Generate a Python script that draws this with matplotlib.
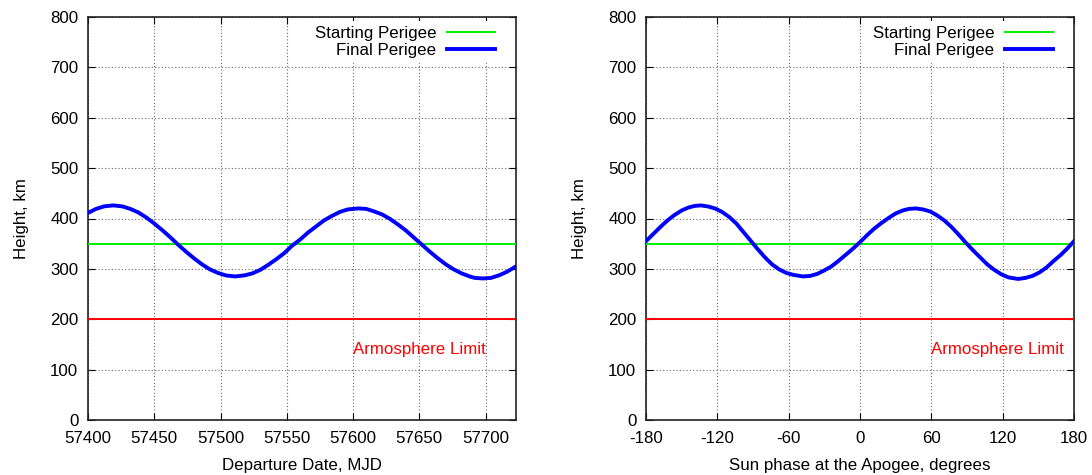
import matplotlib
matplotlib.use("Agg")
import matplotlib.pyplot as plt

plt.rcParams["font.family"] = ["Liberation Sans", "DejaVu Sans"]
plt.rcParams["axes.unicode_minus"] = False
FS = 12.2

# Final perigee height versus departure date (MJD)
mjd = [57400, 57406, 57412, 57419, 57426, 57432, 57438, 57444, 57450, 57456,
       57462, 57468, 57474, 57480, 57486, 57492, 57498, 57504, 57511, 57518,
       57524, 57530, 57536, 57542, 57548, 57554, 57560, 57566, 57572, 57578,
       57584, 57590, 57596, 57604, 57610, 57616, 57622, 57628, 57634, 57640,
       57646, 57652, 57658, 57664, 57670, 57676, 57682, 57688, 57692, 57698,
       57704, 57710, 57716, 57723]
perigee_by_date = [411, 419, 424, 426, 424, 419, 412, 402, 390, 377,
                   363, 348, 334, 321, 309, 299, 292, 287, 285, 287,
                   291, 298, 308, 319, 331, 346, 358, 372, 384, 396,
                   405, 413, 418, 420, 419, 414, 408, 399, 388, 376,
                   362, 348, 334, 321, 309, 299, 291, 285, 282, 281,
                   282, 287, 294, 305]

# Final perigee height versus Sun phase at apogee (degrees)
sun_phase = [-180, -174, -168, -162, -156, -150, -144, -139, -134, -128,
             -122, -116, -110, -104, -98, -92, -86, -80, -74, -68,
             -62, -56, -48, -42, -36, -30, -24, -18, -12, -6,
             0, 6, 12, 18, 24, 30, 36, 41, 47, 53,
             59, 65, 71, 77, 83, 89, 95, 101, 107, 113,
             119, 125, 133, 139, 145, 151, 157, 163, 169, 175,
             180]
perigee_by_phase = [355, 369, 383, 396, 407, 416, 422, 425, 426, 424,
                    420, 413, 403, 390, 373, 356, 339, 323, 309, 299,
                    292, 288, 285, 286, 290, 297, 305, 316, 328, 340,
                    353, 367, 380, 391, 401, 410, 416, 419, 420, 418,
                    414, 406, 396, 383, 368, 352, 337, 323, 309, 298,
                    289, 283, 280, 282, 286, 293, 303, 316, 328, 342,
                    355]

starting_perigee = 350
atmosphere_limit = 200

y_ticks = [0, 100, 200, 300, 400, 500, 600, 700, 800]
date_ticks = [57400, 57450, 57500, 57550, 57600, 57650, 57700]
phase_ticks = [-180, -120, -60, 0, 60, 120, 180]

fig = plt.figure(figsize=(10.92, 4.75), dpi=100)
ax1 = fig.add_axes([88 / 1092, 55 / 475, 428 / 1092, 403 / 475])
ax2 = fig.add_axes([646 / 1092, 55 / 475, 428 / 1092, 403 / 475])

panels = [
    (ax1, mjd, perigee_by_date, (57400, 57723), date_ticks,
     "Departure Date, MJD", 57600),
    (ax2, sun_phase, perigee_by_phase, (-180, 180), phase_ticks,
     "Sun phase at the Apogee, degrees", 60),
]

for ax, xs, ys, xlim, xticks, xlabel, text_x in panels:
    ax.set_xlim(*xlim)
    ax.set_ylim(0, 800)
    ax.set_xticks(xticks)
    ax.set_yticks(y_ticks)
    ax.grid(True, color="0.4", linestyle=(0, (1, 2)), linewidth=0.8)
    ax.set_axisbelow(True)
    ax.tick_params(direction="in", length=5, width=0.8, top=True, right=True,
                   labelsize=FS, colors="black")
    ax.tick_params(axis="x", pad=8)
    ax.tick_params(axis="y", pad=7)
    for sp in ax.spines.values():
        sp.set_linewidth(1.2)
        sp.set_color("#222222")

    ax.axhline(starting_perigee, color="#00f000", linewidth=1.4,
               label="Starting Perigee", zorder=3)
    ax.plot(xs, ys, color="#0000ff", linewidth=2.8, label="Final Perigee",
            zorder=4, solid_joinstyle="round")
    ax.axhline(atmosphere_limit, color="#ff0000", linewidth=1.4, zorder=3)
    ax.text(text_x, 140, "Armosphere Limit", color="#ff0000",
            fontsize=FS, ha="left", va="center")

    ax.set_xlabel(xlabel, fontsize=FS, labelpad=8.5)
    ax.set_ylabel("Height, km", fontsize=FS, labelpad=15)

    leg = ax.legend(loc="upper right", bbox_to_anchor=(0.9626, 0.99),
                    markerfirst=False, frameon=True, fancybox=False,
                    framealpha=1.0, facecolor="white", edgecolor="none",
                    handlelength=2.8, handletextpad=0.65, labelspacing=0.1,
                    borderpad=0.3, borderaxespad=0.0, fontsize=FS)
    leg.set_zorder(5)

fig.savefig("out.png", dpi=100)
